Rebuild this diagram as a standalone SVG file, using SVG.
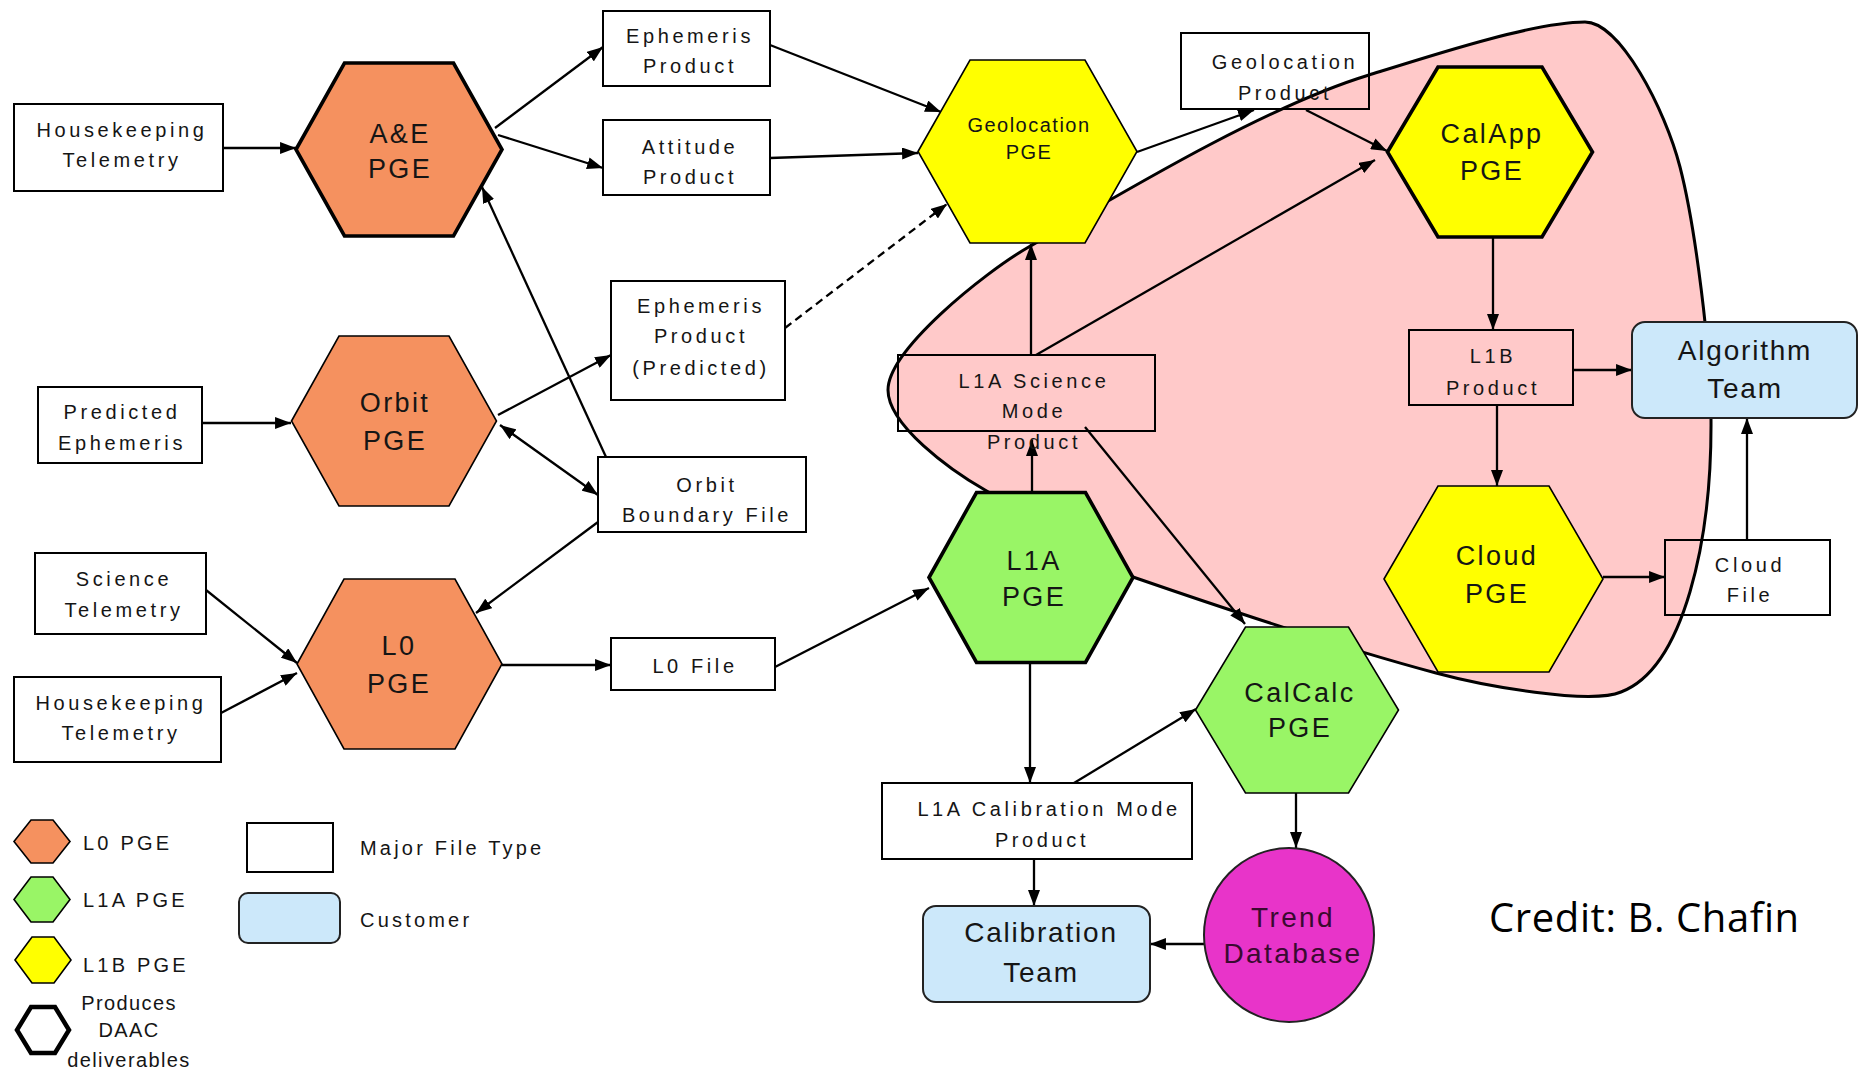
<svg xmlns="http://www.w3.org/2000/svg" width="1860" height="1071" viewBox="0 0 1860 1071">
  <style>
    .bg { fill: #ffffff; }
    .blob { fill: #ffc9c9; stroke: #000; stroke-width: 3; }
    .hex { stroke: #000; stroke-width: 1.6; stroke-linejoin: miter; }
    .hex.daac { stroke-width: 3.6; }
    .hex.key { fill: #fff; stroke-width: 4.5; }
    .l0 { fill: #f5915f; }
    .l1a { fill: #99f566; }
    .l1b { fill: #ffff00; }
    .file { fill: none; stroke: #000; stroke-width: 2; }
    .cust { fill: #cce8fa; stroke: #222; stroke-width: 2; }
    .trend { fill: #e834c9; stroke: #222; stroke-width: 2; }
    .conn line { stroke: #000; stroke-width: 2.3; fill: none; marker-end: url(#ah); }
    .conn .dash { stroke-dasharray: 8 5; }
    .conn .both { marker-start: url(#ah); }
    text { font-family: "Liberation Sans", Arial, sans-serif; fill: #151515; text-anchor: middle; }
    .ft { font-size: 20px; letter-spacing: 3.6px; }
    .pt { font-size: 27px; letter-spacing: 2.4px; }
    .gt { font-size: 20px; letter-spacing: 1.5px; }
    .ct { font-size: 28px; letter-spacing: 1.8px; }
    .tt { font-size: 28px; letter-spacing: 2.4px; fill: #3a0a30; }
    .lg { font-size: 20px; letter-spacing: 3.2px; text-anchor: start; }
    .lg2 { font-size: 20px; letter-spacing: 1.4px; }
    .credit { font-family: "Open Sans", "Noto Sans", sans-serif; font-size: 40px; letter-spacing: 0.6px; text-anchor: start; fill: #000; }
  </style>
  <defs>
    <marker id="ah" viewBox="0 0 16 12" refX="16" refY="6" markerWidth="7" markerHeight="5.2" orient="auto-start-reverse" markerUnits="strokeWidth">
      <path d="M0,0 L16,6 L0,12 z" fill="#000"/>
    </marker>
  </defs>

  <rect class="bg" x="0" y="0" width="1860" height="1071"/>

  <!-- shaded region enclosing the L1B processing -->
  <path id="l1b-region" class="blob" d="M 888 390 C 888 350 984 273 1027 248 C 1122 193 1264 107 1369 75 C 1436 54 1535 22 1585 22 C 1620 22 1665 109 1680 167 C 1695 225 1711 350 1711 418 C 1712 540 1684 668 1621 692 C 1590 705 1484 686 1436 673 Q 1330 645 1133 577 L 985 490 C 950 470 888 425 888 390 Z"/>

  <!-- connectors -->
  <g id="connectors" class="conn">
    <line x1="223" y1="148" x2="296" y2="148"/>
    <line x1="495" y1="128" x2="603" y2="47"/>
    <line x1="498" y1="135" x2="603" y2="168"/>
    <line x1="770" y1="45" x2="941" y2="112"/>
    <line x1="770" y1="158" x2="918" y2="153"/>
    <line class="dash" x1="785" y1="328" x2="947" y2="204"/>
    <line x1="1137" y1="152" x2="1254" y2="110"/>
    <line x1="1306" y1="110" x2="1387" y2="151"/>
    <line x1="1031" y1="355" x2="1031" y2="244"/>
    <line x1="1036" y1="355" x2="1375" y2="160"/>
    <line x1="1493" y1="237" x2="1493" y2="330"/>
    <line x1="1573" y1="370" x2="1632" y2="370"/>
    <line x1="1497" y1="405" x2="1497" y2="486"/>
    <line x1="1603" y1="577" x2="1665" y2="577"/>
    <line x1="1747" y1="540" x2="1747" y2="418"/>
    <line x1="1032" y1="493" x2="1032" y2="440"/>
    <line x1="1085" y1="427" x2="1245" y2="624"/>
    <line x1="775" y1="667" x2="929" y2="588"/>
    <line x1="1030" y1="663" x2="1030" y2="783"/>
    <line x1="1074" y1="783" x2="1196" y2="709"/>
    <line x1="1296" y1="793" x2="1296" y2="848"/>
    <line x1="1204" y1="944" x2="1150" y2="944"/>
    <line x1="1034" y1="859" x2="1034" y2="906"/>
    <line x1="202" y1="423" x2="291" y2="423"/>
    <line x1="498" y1="415" x2="611" y2="355"/>
    <line class="both" x1="500" y1="425" x2="598" y2="495"/>
    <line x1="606" y1="457" x2="482" y2="187"/>
    <line x1="598" y1="522" x2="476" y2="613"/>
    <line x1="206" y1="590" x2="297" y2="663"/>
    <line x1="221" y1="713" x2="297" y2="673"/>
    <line x1="502" y1="665" x2="611" y2="665"/>
  </g>

  <!-- input files -->
  <g id="hk-telemetry-1">
    <rect class="file" x="14" y="104" width="209" height="87"/>
    <text class="ft" x="122" y="137">Housekeeping</text>
    <text class="ft" x="122" y="167">Telemetry</text>
  </g>
  <g id="predicted-ephemeris">
    <rect class="file" x="38" y="387" width="164" height="76"/>
    <text class="ft" x="122" y="419">Predicted</text>
    <text class="ft" x="122" y="450">Ephemeris</text>
  </g>
  <g id="science-telemetry">
    <rect class="file" x="35" y="553" width="171" height="81"/>
    <text class="ft" x="124" y="586">Science</text>
    <text class="ft" x="124" y="617">Telemetry</text>
  </g>
  <g id="hk-telemetry-2">
    <rect class="file" x="14" y="677" width="207" height="85"/>
    <text class="ft" x="121" y="710">Housekeeping</text>
    <text class="ft" x="121" y="740">Telemetry</text>
  </g>

  <!-- L0 stage -->
  <g id="ae-pge">
    <polygon class="hex l0 daac" points="296,149.5 344.5,63 453.5,63 502,149.5 453.5,236 344.5,236"/>
    <text class="pt" x="400" y="143">A&amp;E</text>
    <text class="pt" x="400" y="178">PGE</text>
  </g>
  <g id="orbit-pge">
    <polygon class="hex l0" points="291.5,421 339,336 449,336 496.5,421 449,506 339,506"/>
    <text class="pt" x="395" y="412">Orbit</text>
    <text class="pt" x="395" y="450">PGE</text>
  </g>
  <g id="l0-pge">
    <polygon class="hex l0" points="297,664 344,579 455,579 502,664 455,749 344,749"/>
    <text class="pt" x="399" y="655">L0</text>
    <text class="pt" x="399" y="693">PGE</text>
  </g>

  <!-- intermediate files -->
  <g id="ephemeris-product">
    <rect class="file" x="603" y="11" width="167" height="75"/>
    <text class="ft" x="690" y="43">Ephemeris</text>
    <text class="ft" x="690" y="73">Product</text>
  </g>
  <g id="attitude-product">
    <rect class="file" x="603" y="120" width="167" height="75"/>
    <text class="ft" x="690" y="154">Attitude</text>
    <text class="ft" x="690" y="184">Product</text>
  </g>
  <g id="ephemeris-predicted">
    <rect class="file" x="611" y="281" width="174" height="119"/>
    <text class="ft" x="701" y="313">Ephemeris</text>
    <text class="ft" x="701" y="343">Product</text>
    <text class="ft" x="701" y="375">(Predicted)</text>
  </g>
  <g id="orbit-boundary-file">
    <rect class="file" x="598" y="457" width="208" height="75"/>
    <text class="ft" x="707" y="492">Orbit</text>
    <text class="ft" x="707" y="522">Boundary File</text>
  </g>
  <g id="l0-file">
    <rect class="file" x="611" y="638" width="164" height="52"/>
    <text class="ft" x="695" y="673">L0 File</text>
  </g>

  <!-- L1A / geolocation stage -->
  <g id="geolocation-pge">
    <polygon class="hex l1b" points="918,151.5 970,60 1085,60 1137,151.5 1085,243 970,243"/>
    <text class="gt" x="1029" y="132">Geolocation</text>
    <text class="gt" x="1029" y="159">PGE</text>
  </g>
  <g id="geolocation-product">
    <rect class="file" x="1181" y="33" width="188" height="76"/>
    <text class="ft" x="1285" y="69">Geolocation</text>
    <text class="ft" x="1285" y="100">Product</text>
  </g>
  <g id="l1a-science-product">
    <rect class="file" x="898" y="355" width="257" height="76"/>
    <text class="ft" x="1034" y="388">L1A Science</text>
    <text class="ft" x="1034" y="418">Mode</text>
    <text class="ft" x="1034" y="449">Product</text>
  </g>
  <g id="l1a-pge">
    <polygon class="hex l1a daac" points="929,577.5 976.5,492.5 1085.5,492.5 1133,577.5 1085.5,662.5 976.5,662.5"/>
    <text class="pt" x="1034" y="570">L1A</text>
    <text class="pt" x="1034" y="606">PGE</text>
  </g>
  <g id="calcalc-pge">
    <polygon class="hex l1a" points="1195.5,710 1245.5,627 1348.5,627 1398.5,710 1348.5,793 1245.5,793"/>
    <text class="pt" x="1300" y="702">CalCalc</text>
    <text class="pt" x="1300" y="737">PGE</text>
  </g>
  <g id="l1a-cal-product">
    <rect class="file" x="882" y="783" width="310" height="76"/>
    <text class="ft" x="1049" y="816">L1A Calibration Mode</text>
    <text class="ft" x="1042" y="847">Product</text>
  </g>
  <g id="trend-database">
    <ellipse class="trend" cx="1289" cy="935" rx="85" ry="87"/>
    <text class="tt" x="1293" y="927">Trend</text>
    <text class="tt" x="1293" y="963">Database</text>
  </g>
  <g id="calibration-team">
    <rect class="cust" x="923" y="906" width="227" height="96" rx="13"/>
    <text class="ct" x="1041" y="942">Calibration</text>
    <text class="ct" x="1041" y="982">Team</text>
  </g>

  <!-- L1B stage -->
  <g id="calapp-pge">
    <polygon class="hex l1b daac" points="1387.5,152 1438,67 1542,67 1592.5,152 1542,237 1438,237"/>
    <text class="pt" x="1492" y="143">CalApp</text>
    <text class="pt" x="1492" y="180">PGE</text>
  </g>
  <g id="l1b-product">
    <rect class="file" x="1409" y="330" width="164" height="75"/>
    <text class="ft" x="1493" y="363">L1B</text>
    <text class="ft" x="1493" y="395">Product</text>
  </g>
  <g id="cloud-pge">
    <polygon class="hex l1b" points="1384,579 1438,486 1549,486 1603,579 1549,672 1438,672"/>
    <text class="pt" x="1497" y="565">Cloud</text>
    <text class="pt" x="1497" y="603">PGE</text>
  </g>
  <g id="cloud-file">
    <rect class="file" x="1665" y="540" width="165" height="75"/>
    <text class="ft" x="1750" y="572">Cloud</text>
    <text class="ft" x="1750" y="602">File</text>
  </g>
  <g id="algorithm-team">
    <rect class="cust" x="1632" y="322" width="225" height="96" rx="13"/>
    <text class="ct" x="1745" y="360">Algorithm</text>
    <text class="ct" x="1745" y="398">Team</text>
  </g>

  <!-- legend -->
  <g id="legend">
    <polygon class="hex l0" points="14,841.5 31,820 53,820 70,841.5 53,863 31,863"/>
    <text class="lg" x="83" y="850">L0 PGE</text>
    <polygon class="hex l1a" points="14,899.5 31,877 53,877 70,899.5 53,922 31,922"/>
    <text class="lg" x="83" y="907">L1A PGE</text>
    <polygon class="hex l1b" points="15,960 32,937 54,937 71,960 54,983 32,983"/>
    <text class="lg" x="83" y="972">L1B PGE</text>
    <polygon class="hex key" points="17,1030 31,1007 55,1007 69,1030 55,1053 31,1053"/>
    <text class="lg2" x="129" y="1010">Produces</text>
    <text class="lg2" x="129" y="1037">DAAC</text>
    <text class="lg2" x="129" y="1067">deliverables</text>
    <rect class="file" x="247" y="823" width="86" height="49"/>
    <text class="lg" x="360" y="855">Major File Type</text>
    <rect class="cust" x="239" y="893" width="101" height="50" rx="9"/>
    <text class="lg" x="360" y="927">Customer</text>
  </g>

  <text class="credit" x="1489" y="932">Credit: B. Chafin</text>
</svg>
